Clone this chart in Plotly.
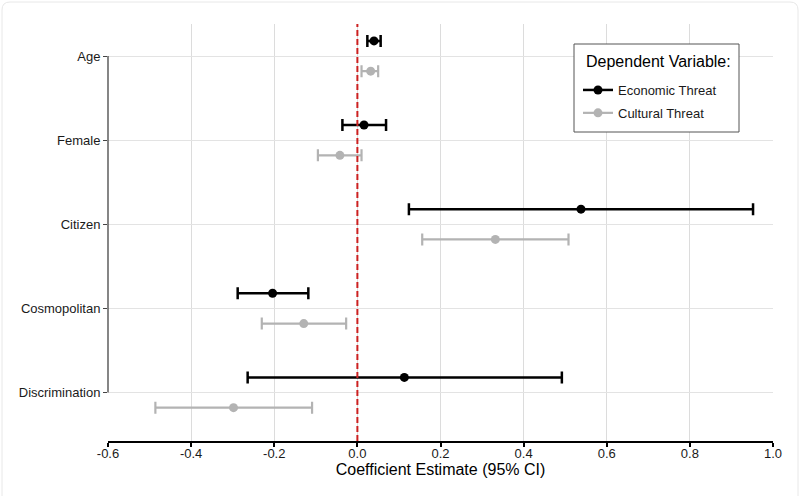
import plotly.graph_objects as go

# coefficient estimates with 95% CI
variables = ['Age', 'Female', 'Citizen', 'Cosmopolitan', 'Discrimination']

econ_est = [0.040, 0.016, 0.538, -0.204, 0.113]
econ_lo = [0.024, -0.036, 0.124, -0.288, -0.264]
econ_hi = [0.056, 0.069, 0.952, -0.118, 0.492]

cult_est = [0.032, -0.042, 0.332, -0.129, -0.298]
cult_lo = [0.010, -0.095, 0.156, -0.230, -0.486]
cult_hi = [0.050, 0.010, 0.508, -0.027, -0.109]

x_ticks = [-0.6, -0.4, -0.2, 0.0, 0.2, 0.4, 0.6, 0.8, 1.0]
x_labels = ['-0.6', '-0.4', '-0.2', '0.0', '0.2', '0.4', '0.6', '0.8', '1.0']

ECON_COL = 'black'
CULT_COL = '#b3b3b3'
FONT = 'Liberation Sans, Arial, sans-serif'

W, H = 800, 496
M = dict(l=108, r=27, t=24, b=55)


def px_to_paper(px, py):
    pw = W - M['l'] - M['r']
    ph = H - M['t'] - M['b']
    return (px - M['l']) / pw, (H - M['b'] - py) / ph


fig = go.Figure()

series = [
    ('Economic Threat', econ_est, econ_lo, econ_hi, ECON_COL, 2.5),
    ('Cultural Threat', cult_est, cult_lo, cult_hi, CULT_COL, 2.2),
]
# cultural first so that it sits below economic inside each group
for name, est, lo, hi, col, lw in series[::-1]:
    fig.add_trace(go.Scatter(
        x=est, y=variables, mode='markers', orientation='h',
        offsetgroup=name, name=name, showlegend=False,
        marker=dict(color=col, size=9),
        error_x=dict(
            type='data', symmetric=False,
            array=[h - e for e, h in zip(est, hi)],
            arrayminus=[e - l for e, l in zip(est, lo)],
            color=col, thickness=lw, width=6,
        ),
    ))

# legend entries drawn like ggplot pointranges
for name, est, lo, hi, col, lw in series:
    fig.add_trace(go.Scatter(
        x=[None], y=[None], mode='lines+markers', name=name,
        legendgroup=name,
        line=dict(color=col, width=lw), marker=dict(color=col, size=9),
    ))

# red dashed reference line at zero
fig.add_vline(x=0, line=dict(color='#cc2020', width=2, dash='6px,3px'))

# capped y axis line (Age -> Discrimination)
fig.add_shape(type='line', xref='paper', x0=0, x1=0, yref='y',
              y0=variables[-1], y1=variables[0],
              line=dict(color='#444444', width=1.3))

# faint card frame round the picture
x0, y0 = px_to_paper(2, 2)
x1, y1 = px_to_paper(798, 520)
rx, ry = px_to_paper(10, 10)
dx = rx - x0
dy = y0 - ry
fig.add_shape(
    type='path', xref='paper', yref='paper', layer='below',
    path=(f'M {x0},{y1} L {x0},{y0 - dy} Q {x0},{y0} {x0 + dx},{y0} '
          f'L {x1 - dx},{y0} Q {x1},{y0} {x1},{y0 - dy} L {x1},{y1}'),
    line=dict(color='#e8e8e8', width=1),
)

# legend box with its title (ggplot style)
bx0, by0 = px_to_paper(574, 44)
bx1, by1 = px_to_paper(739, 132)
fig.add_shape(type='rect', xref='paper', yref='paper',
              x0=bx0, y0=by0, x1=bx1, y1=by1,
              line=dict(color='#555555', width=1), fillcolor='white',
              layer='above')
tx, ty = px_to_paper(584, 62)
fig.add_annotation(xref='paper', yref='paper', x=tx, y=ty,
                   xanchor='left', yanchor='middle', showarrow=False,
                   text='Dependent Variable:',
                   font=dict(size=16, color='black'))

lx, ly = px_to_paper(578, 75)
fig.update_layout(
    width=W, height=H, margin=M,
    paper_bgcolor='white', plot_bgcolor='white',
    font=dict(family=FONT, color='#1a1a1a', size=13),
    scattermode='group', scattergap=0.28,
    showlegend=True,
    legend=dict(
        x=lx, y=ly, xanchor='left', yanchor='top',
        borderwidth=0, bgcolor='rgba(0,0,0,0)',
        font=dict(size=13, color='#1a1a1a'),
        traceorder='grouped', tracegroupgap=3,
    ),
    xaxis=dict(
        range=[-0.6, 1.0], tickvals=x_ticks, ticktext=x_labels,
        showgrid=True, gridcolor='#dcdcdc', gridwidth=1, zeroline=False,
        showline=True, linecolor='black', linewidth=2,
        ticks='outside', ticklen=4, tickwidth=1.5, tickcolor='black',
        tickfont=dict(size=13, color='#1a1a1a'), ticklabelstandoff=-5,
        title=dict(text='Coefficient Estimate (95% CI)', standoff=0,
                   font=dict(size=16, color='black')),
    ),
    yaxis=dict(
        type='category', categoryorder='array',
        categoryarray=variables[::-1], range=[-0.576, 4.381],
        showgrid=True, gridcolor='#e3e3e3', gridwidth=1, zeroline=False,
        showline=False, automargin=False,
        ticks='outside', ticklen=4, tickwidth=1.3, tickcolor='#444444',
        tickfont=dict(size=13, color='#1a1a1a'),
    ),
)

fig.write_html('out.html', config={'displayModeBar': False},
               post_script="document.body.style.margin='0px';")
